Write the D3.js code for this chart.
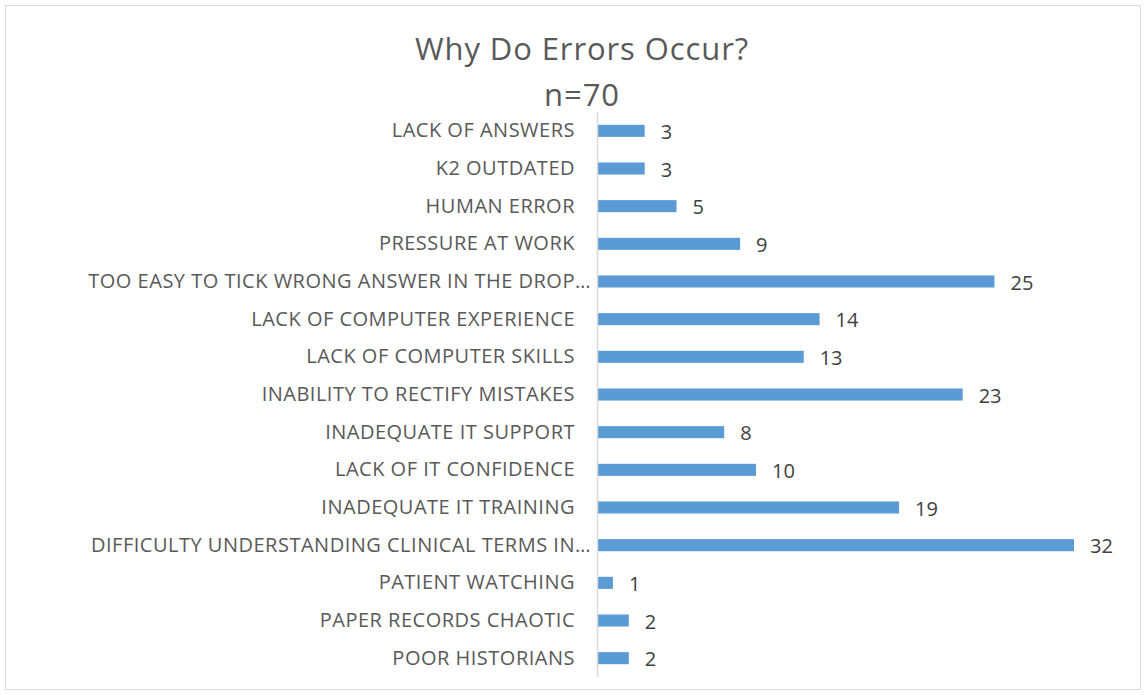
<!DOCTYPE html>
<html>
<head>
<meta charset="utf-8">
<script src="https://cdn.jsdelivr.net/npm/d3@7"></script>
<style>
  body { margin: 0; background: #fff; }
  text { font-family: "Open Sans", sans-serif; }
</style>
</head>
<body>
<div id="chart"></div>
<script>
// categories top to bottom, as shown
var categories = [
    "LACK OF ANSWERS",
    "K2 OUTDATED",
    "HUMAN ERROR",
    "PRESSURE AT WORK",
    "TOO EASY TO TICK WRONG ANSWER IN THE DROP…",
    "LACK OF COMPUTER EXPERIENCE",
    "LACK OF COMPUTER SKILLS",
    "INABILITY TO RECTIFY MISTAKES",
    "INADEQUATE IT SUPPORT",
    "LACK OF IT CONFIDENCE",
    "INADEQUATE IT TRAINING",
    "DIFFICULTY UNDERSTANDING CLINICAL TERMS IN…",
    "PATIENT WATCHING",
    "PAPER RECORDS CHAOTIC",
    "POOR HISTORIANS"
];
var values = [3, 3, 5, 9, 25, 14, 13, 23, 8, 10, 19, 32, 1, 2, 2];
var axisMax = 30;

var W = 1146, H = 695;
var margin = { top: 112, right: 70, bottom: 18, left: 597 },
    width = 1074 - margin.left,
    height = H - margin.top - margin.bottom;

var svg = d3.select("#chart")
    .append("svg")
    .attr("width", W)
    .attr("height", H);

// chart frame
svg.append("rect")
    .attr("x", 5.5).attr("y", 5.5)
    .attr("width", W - 11).attr("height", H - 11)
    .attr("fill", "none")
    .attr("stroke", "#d9d9d9");

svg.append("text")
    .attr("x", 582).attr("y", 60)
    .attr("text-anchor", "middle")
    .attr("font-size", 31)
    .attr("letter-spacing", 0.9)
    .attr("fill", "#595959")
    .text("Why Do Errors Occur?");
svg.append("text")
    .attr("x", 582).attr("y", 106)
    .attr("text-anchor", "middle")
    .attr("font-size", 31)
    .attr("letter-spacing", 0.9)
    .attr("fill", "#595959")
    .text("n=70");

var g = svg.append("g")
    .attr("transform", "translate(" + margin.left + "," + margin.top + ")");

var x = d3.scaleLinear().domain([0, axisMax]).range([0, width]);
var y = d3.scaleBand().domain(categories).range([0, height]).paddingInner(0.68).paddingOuter(0.34);

// category labels
var yAxis = d3.axisLeft(y).tickSize(0).tickPadding(22);
var ya = g.append("g").call(yAxis);
ya.select(".domain").remove();
ya.selectAll("text")
    .attr("font-family", "Open Sans, sans-serif")
    .attr("font-size", 20)
    .attr("letter-spacing", 0.5)
    .attr("fill", "#595959")
    .attr("dx", function (d) { return d.indexOf("…") >= 0 ? 16 : 0; });

g.selectAll("rect.bar")
    .data(values)
    .enter()
    .append("rect")
    .attr("class", "bar")
    .attr("x", 0)
    .attr("y", function (d, i) { return y(categories[i]); })
    .attr("width", function (d) { return x(Math.min(d, axisMax)); })
    .attr("height", y.bandwidth())
    .attr("fill", "#5b9bd5");

g.selectAll("text.val")
    .data(values)
    .enter()
    .append("text")
    .attr("class", "val")
    .attr("x", function (d) { return x(Math.min(d, axisMax)) + 16; })
    .attr("y", function (d, i) { return y(categories[i]) + y.bandwidth() / 2; })
    .attr("dy", "0.4em")
    .attr("font-size", 20)
    .attr("fill", "#404040")
    .text(function (d) { return d; });

// vertical axis line
g.append("line")
    .attr("x1", 0.5).attr("x2", 0.5)
    .attr("y1", 0).attr("y2", height)
    .attr("stroke", "#d9d9d9")
    .attr("stroke-width", 1.5);
</script>
</body>
</html>
